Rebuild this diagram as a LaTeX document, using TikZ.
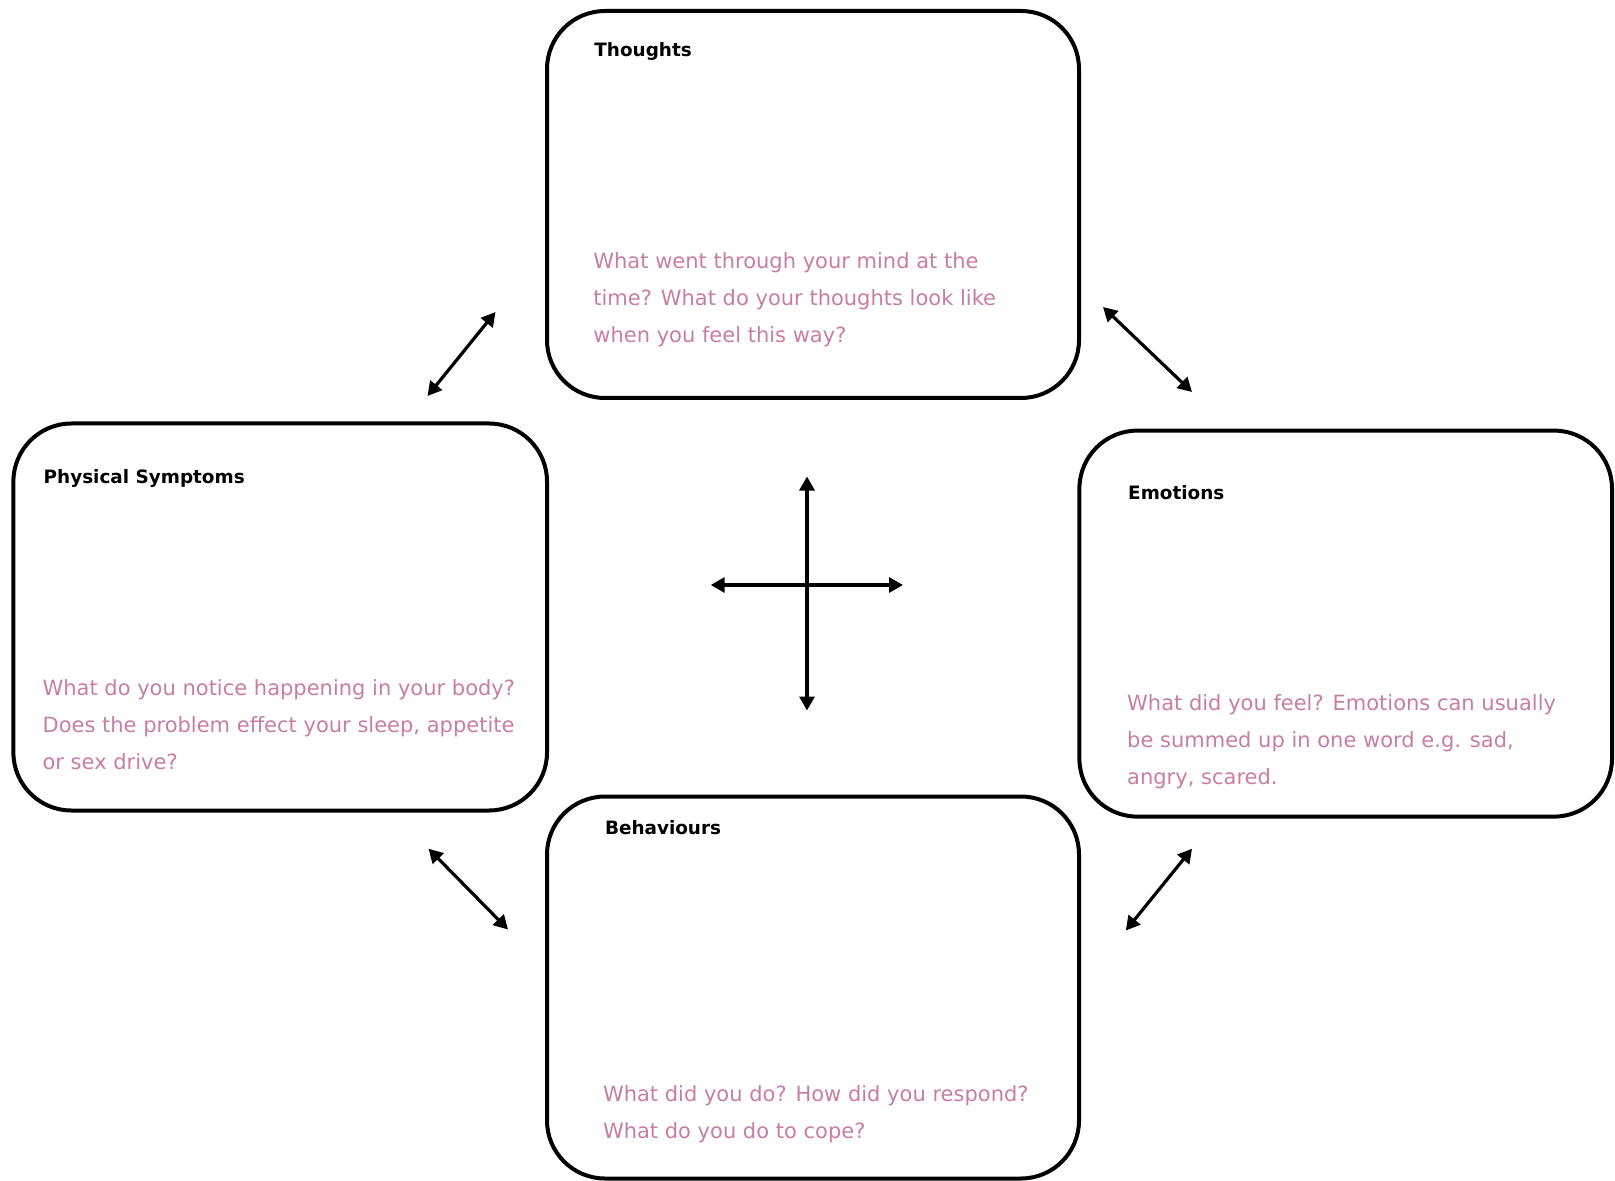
\documentclass[tikz,border=0pt]{standalone}
\usepackage{fontspec}
\setmainfont{DejaVu Sans}
\usetikzlibrary{arrows.meta}
\definecolor{pinktext}{RGB}{200,125,165}
\tikzset{
  box/.style={draw=black, line width=2pt, rounded corners=29pt, fill=none, inner sep=0pt},
  boxtitle/.style={anchor=west, inner sep=0pt, font=\fontsize{9.2}{11}\selectfont\bfseries, text=black},
  prompt/.style={anchor=base west, inner sep=0pt, align=left, font=\fontsize{10.5}{18.5}\selectfont, text=pinktext},
  dblarrow/.style={line width=1.6pt, {Triangle[length=7pt,width=7.5pt]}-{Triangle[length=7pt,width=7.5pt]}, shorten <=0pt, shorten >=0pt}
}
\begin{document}
\begin{tikzpicture}[x=0.5pt,y=-0.5pt]
\useasboundingbox (0,0) rectangle (1615,1181);
% boxes
\node[box, minimum width=266pt, minimum height=193.5pt] (thoughts) at (813,204.5) {};
\node[box, minimum width=266.8pt, minimum height=193.5pt] (physical) at (280.2,617) {};
\node[box, minimum width=266.3pt, minimum height=193pt] (emotions) at (1345.7,623.6) {};
\node[box, minimum width=266pt, minimum height=191pt] (behaviours) at (813,987.5) {};
% titles
\node[boxtitle] (tT) at (594,51.4) {Thoughts};
\node[boxtitle] (pT) at (43.3,478.9) {Physical Symptoms};
\node[boxtitle] (eT) at (1127.8,492.3) {Emotions};
\node[boxtitle] (bT) at (604.6,828.1) {Behaviours};
% prompts (anchored at the baseline of the last line)
\node[prompt] (tP) at (593,342.5) {What went through your mind at the\\time? What do your thoughts look like\\when you feel this way?};
\node[prompt] (pP) at (42.2,769) {What do you notice happening in your body?\\Does the problem effect your sleep, appetite\\or sex drive?};
\node[prompt] (eP) at (1126.8,784.5) {What did you feel? Emotions can usually\\be summed up in one word e.g. sad,\\angry, scared.};
\node[prompt] (bP) at (602.6,1138) {What did you do? How did you respond?\\What do you do to cope?};
% arrow ends
\coordinate (tl1) at (495.5,312);
\coordinate (tl2) at (427.5,396);
\coordinate (tr1) at (1103,307);
\coordinate (tr2) at (1192,392);
\coordinate (bl1) at (428.5,848.7);
\coordinate (bl2) at (508,929.5);
\coordinate (br1) at (1192,848.7);
\coordinate (br2) at (1125.8,930.5);
\coordinate (cN) at (807,476.5);
\coordinate (cS) at (807,710.5);
\coordinate (cW) at (710.7,585);
\coordinate (cE) at (903,585);
% connectors
\draw[dblarrow] (tl1) -- (tl2);
\draw[dblarrow] (tr1) -- (tr2);
\draw[dblarrow] (bl1) -- (bl2);
\draw[dblarrow] (br1) -- (br2);
\draw[dblarrow] (cN) -- (cS);
\draw[dblarrow] (cW) -- (cE);
\end{tikzpicture}
\end{document}
